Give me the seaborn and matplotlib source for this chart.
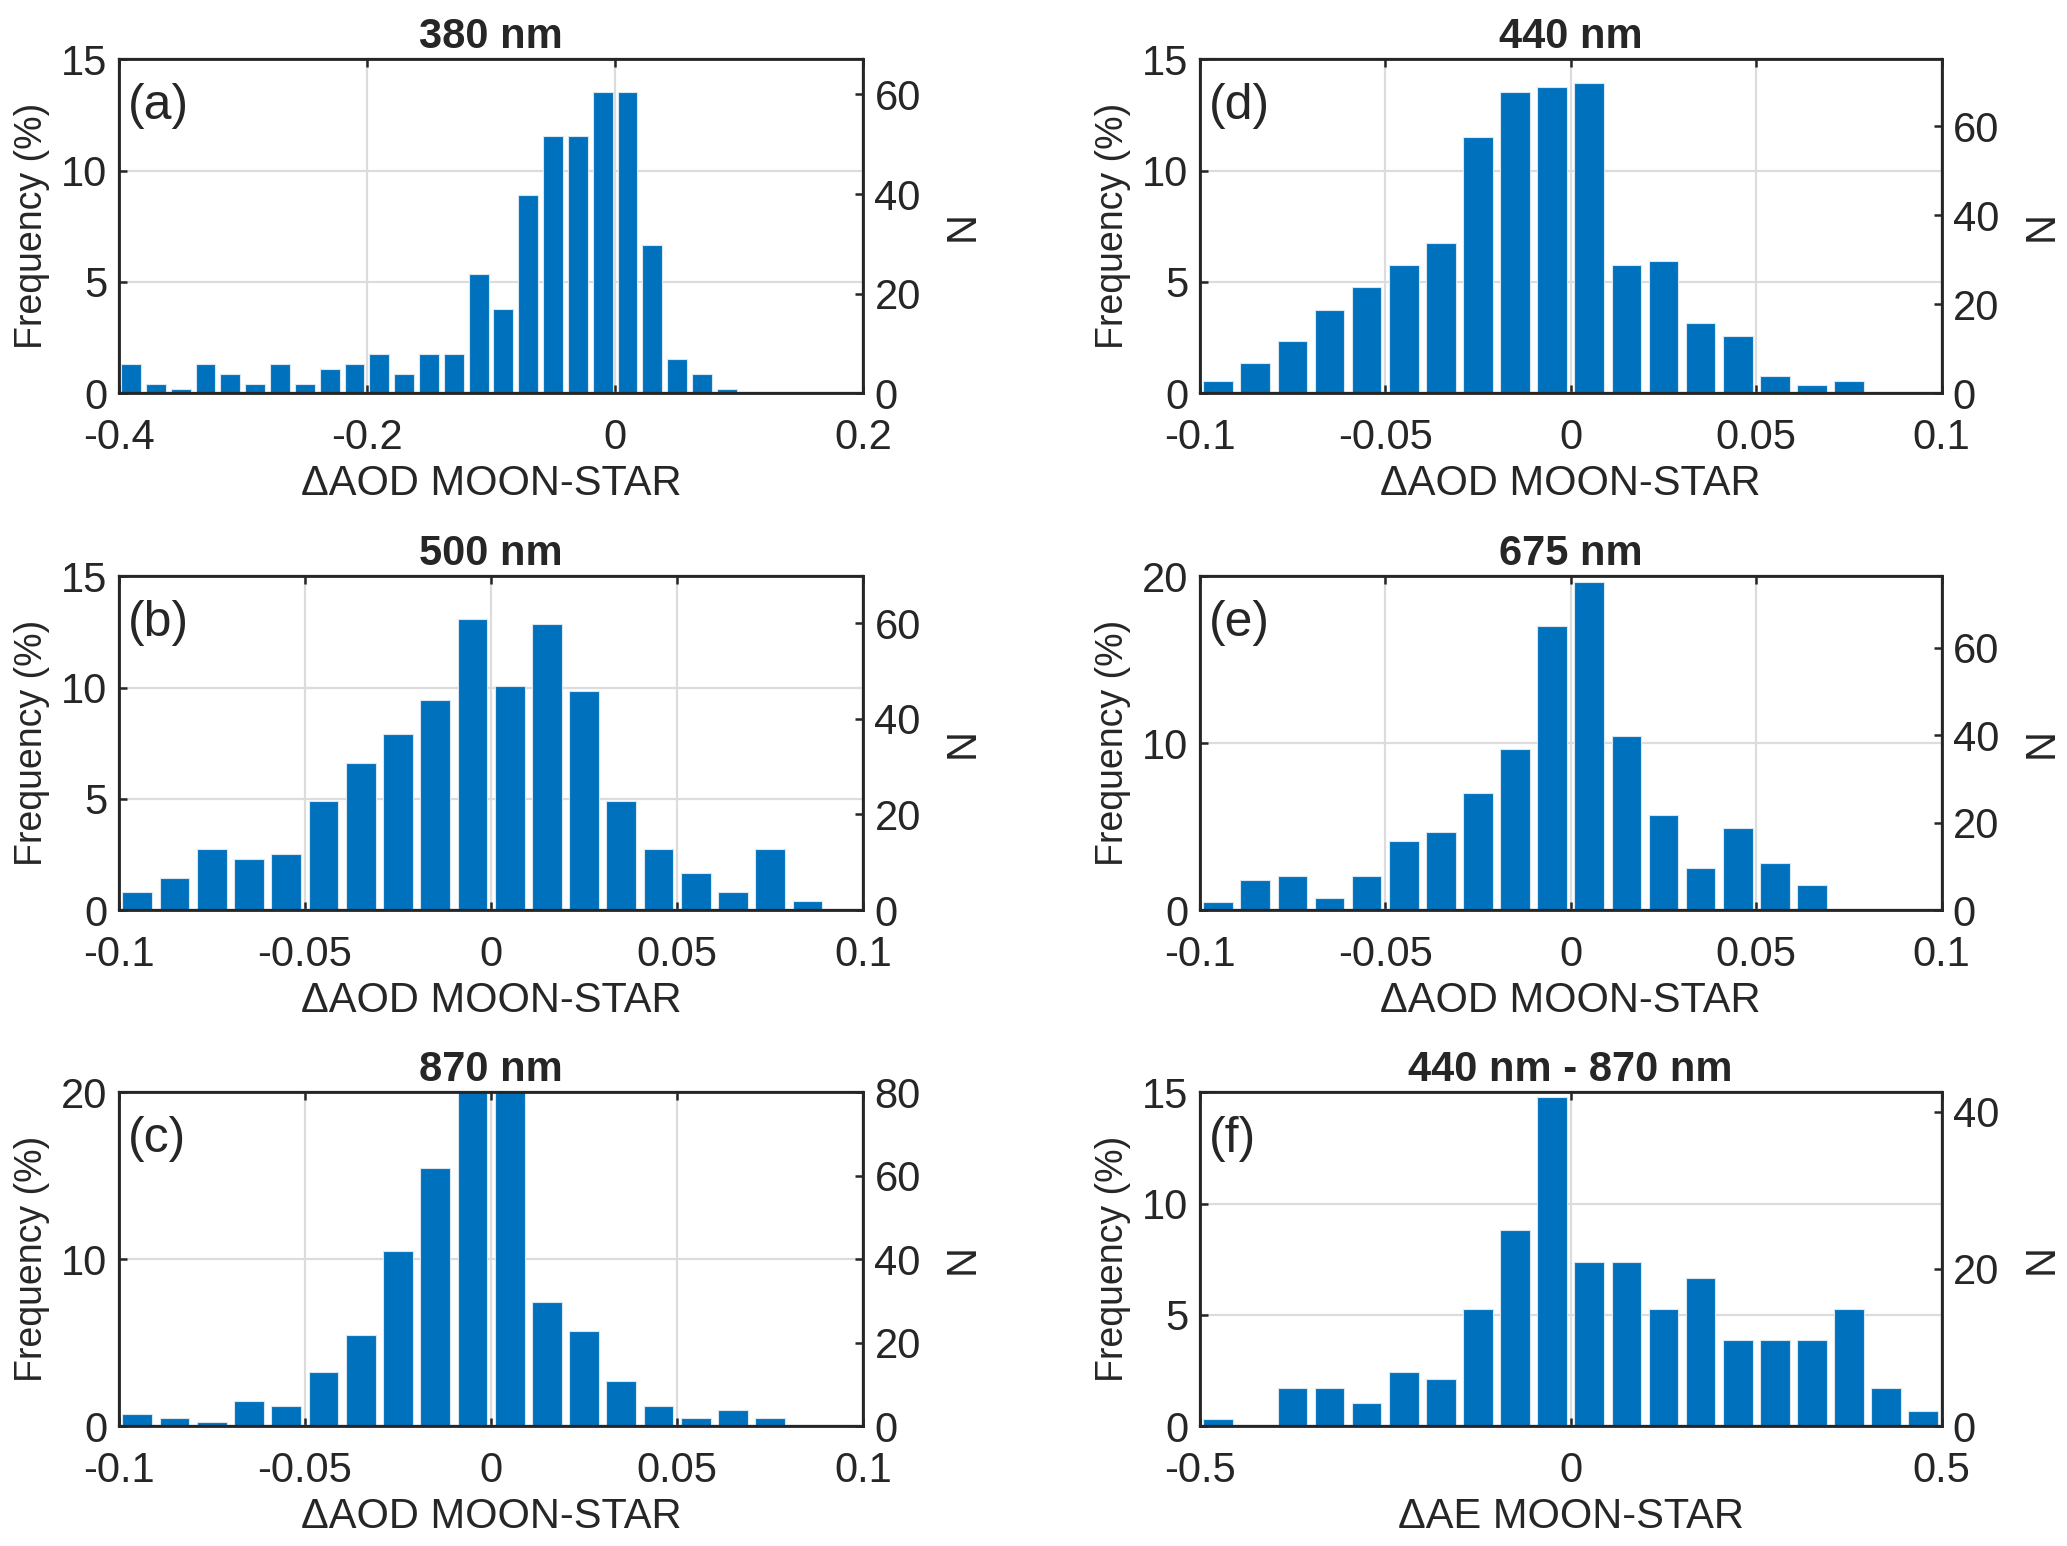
import numpy as np
import seaborn as sns
import matplotlib.pyplot as plt
from matplotlib.ticker import FuncFormatter

sns.set_style("ticks")
plt.rcParams['font.family'] = ['Liberation Sans', 'DejaVu Sans']
plt.rcParams['axes.unicode_minus'] = False

BAR_COLOR = "#0072BD"

# --- data: bin centres and frequency (%) ---
centers_380 = [-0.39, -0.37, -0.35, -0.33, -0.31, -0.29, -0.27, -0.25, -0.23, -0.21,
               -0.19, -0.17, -0.15, -0.13, -0.11, -0.09, -0.07, -0.05, -0.03, -0.01,
               0.01, 0.03, 0.05, 0.07, 0.09]
freq_380 = [1.3, 0.4, 0.2, 1.3, 0.85, 0.4, 1.3, 0.4, 1.1, 1.3,
            1.75, 0.85, 1.75, 1.75, 5.35, 3.8, 8.9, 11.55, 11.55, 13.55,
            13.55, 6.65, 1.55, 0.85, 0.2]

centers_500 = [-0.095, -0.085, -0.075, -0.065, -0.055, -0.045, -0.035, -0.025, -0.015, -0.005,
               0.005, 0.015, 0.025, 0.035, 0.045, 0.055, 0.065, 0.075, 0.085]
freq_500 = [0.82, 1.45, 2.75, 2.3, 2.53, 4.9, 6.63, 7.93, 9.45, 13.1,
            10.08, 12.87, 9.86, 4.9, 2.75, 1.68, 0.82, 2.75, 0.39]

centers_870 = [-0.095, -0.085, -0.075, -0.065, -0.055, -0.045, -0.035, -0.025, -0.015, -0.005,
               0.005, 0.015, 0.025, 0.035, 0.045, 0.055, 0.065, 0.075]
freq_870 = [0.7, 0.46, 0.22, 1.47, 1.21, 3.22, 5.45, 10.46, 15.47, 21.0,
            21.0, 7.46, 5.71, 2.72, 1.21, 0.46, 0.97, 0.46]

centers_440 = [-0.095, -0.085, -0.075, -0.065, -0.055, -0.045, -0.035, -0.025, -0.015, -0.005,
               0.005, 0.015, 0.025, 0.035, 0.045, 0.055, 0.065, 0.075]
freq_440 = [0.55, 1.35, 2.35, 3.75, 4.75, 5.75, 6.75, 11.5, 13.55, 13.75,
            13.95, 5.75, 5.95, 3.15, 2.55, 0.75, 0.35, 0.55]

centers_675 = [-0.095, -0.085, -0.075, -0.065, -0.055, -0.045, -0.035, -0.025, -0.015, -0.005,
               0.005, 0.015, 0.025, 0.035, 0.045, 0.055, 0.065]
freq_675 = [0.46, 1.78, 2.04, 0.71, 2.04, 4.14, 4.67, 7.01, 9.66, 17.0,
            19.66, 10.42, 5.72, 2.55, 4.93, 2.83, 1.49]

centers_ae = [-0.475, -0.425, -0.375, -0.325, -0.275, -0.225, -0.175, -0.125, -0.075, -0.025,
              0.025, 0.075, 0.125, 0.175, 0.225, 0.275, 0.325, 0.375, 0.425, 0.475]
freq_ae = [0.33, 0.0, 1.73, 1.73, 1.03, 2.44, 2.10, 5.26, 8.79, 14.8,
           7.38, 7.38, 5.26, 6.67, 3.85, 3.85, 3.85, 5.26, 1.73, 0.66]

# counts per percent (right-hand N axis)
n_per_pct = {"a": 4.47, "b": 4.65, "c": 4.0, "d": 5.0, "e": 3.82, "f": 2.83}

panels = [
    # letter, title, centers, freq, xlim, xticks, ylim, yticks, nticks, xlabel, column, row
    ("a", "380 nm", centers_380, freq_380, (-0.4, 0.2), [-0.4, -0.2, 0, 0.2], 15, [0, 5, 10, 15],
     [0, 20, 40, 60], "\u0394AOD MOON-STAR", 0, 0),
    ("b", "500 nm", centers_500, freq_500, (-0.1, 0.1), [-0.1, -0.05, 0, 0.05, 0.1], 15, [0, 5, 10, 15],
     [0, 20, 40, 60], "\u0394AOD MOON-STAR", 0, 1),
    ("c", "870 nm", centers_870, freq_870, (-0.1, 0.1), [-0.1, -0.05, 0, 0.05, 0.1], 20, [0, 10, 20],
     [0, 20, 40, 60, 80], "\u0394AOD MOON-STAR", 0, 2),
    ("d", "440 nm", centers_440, freq_440, (-0.1, 0.1), [-0.1, -0.05, 0, 0.05, 0.1], 15, [0, 5, 10, 15],
     [0, 20, 40, 60], "\u0394AOD MOON-STAR", 1, 0),
    ("e", "675 nm", centers_675, freq_675, (-0.1, 0.1), [-0.1, -0.05, 0, 0.05, 0.1], 20, [0, 10, 20],
     [0, 20, 40, 60], "\u0394AOD MOON-STAR", 1, 1),
    ("f", "440 nm - 870 nm", centers_ae, freq_ae, (-0.5, 0.5), [-0.5, 0, 0.5], 15, [0, 5, 10, 15],
     [0, 20, 40], "\u0394AE MOON-STAR", 1, 2),
]

FS = 15
fig = plt.figure(figsize=(2067 / 200, 1546 / 200), dpi=200)

col_left = [0.0574, 0.5804]
col_width = [0.3603, 0.359]
row_bottom = [0.7457, 0.4113, 0.0776]
row_height = 0.2159

fmt = FuncFormatter(lambda v, p: "%g" % v)

for letter, title, cx, fy, xlim, xticks, ylim, yticks, nticks, xlabel, col, row in panels:
    ax = fig.add_axes([col_left[col], row_bottom[row], col_width[col], row_height])
    sns.barplot(x=cx, y=fy, native_scale=True, width=0.8, color=BAR_COLOR,
                saturation=1, errorbar=None, edgecolor="#d8e6f2", linewidth=0.4, ax=ax)
    ax.set_xlim(*xlim)
    ax.set_ylim(0, ylim)
    ax.set_xticks(xticks)
    ax.set_yticks(yticks)
    ax.xaxis.set_major_formatter(fmt)
    ax.yaxis.set_major_formatter(fmt)
    ax.grid(True, color="#dcdcdc", linewidth=0.8)
    ax.set_axisbelow(True)
    ax.tick_params(axis="x", direction="in", top=True, length=3, width=0.9,
                   labelsize=FS, pad=9)
    ax.tick_params(axis="y", direction="in", length=3, width=0.9, labelsize=FS, pad=4)
    for s in ax.spines.values():
        s.set_linewidth(1.0)
        s.set_color("#262626")
    ax.set_xlabel(xlabel, fontsize=FS, labelpad=2)
    ax.set_ylabel("Frequency (%)", fontsize=13.5, labelpad=4)
    ax.set_title(title, fontsize=FS, fontweight="bold", pad=4)
    ax.text(0.013, 0.93, "(%s)" % letter, transform=ax.transAxes, fontsize=18,
            ha="left", va="top")

    ax2 = ax.twinx()
    ax2.set_ylim(0, ylim * n_per_pct[letter])
    ax2.set_yticks(nticks)
    ax2.yaxis.set_major_formatter(fmt)
    ax2.tick_params(axis="y", direction="in", length=3, width=0.9, labelsize=FS, pad=4)
    ax2.set_ylabel("N", fontsize=FS, labelpad=8)
    ax2.grid(False)

fig.savefig("out.png", dpi=200)
